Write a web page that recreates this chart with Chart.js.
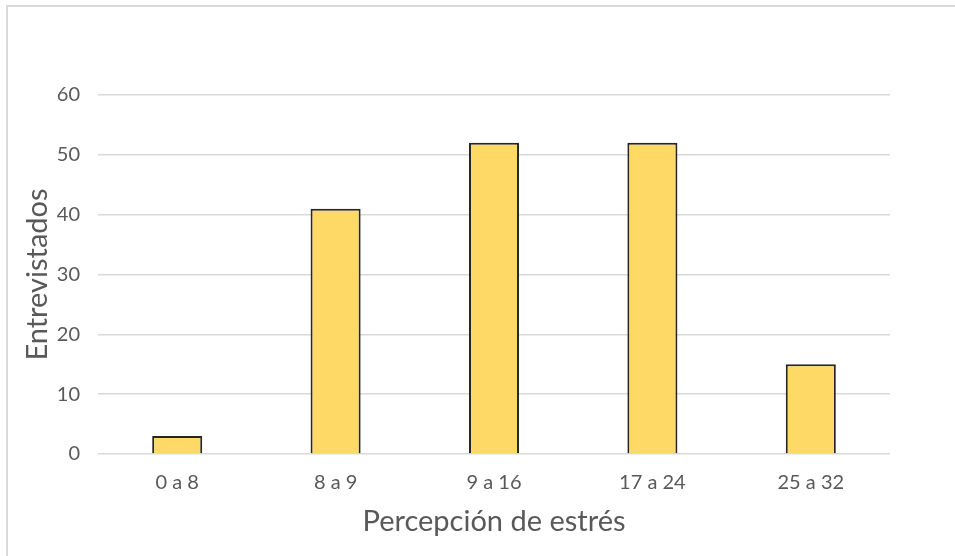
<!DOCTYPE html>
<html>
<head>
<meta charset="utf-8">
<script src="https://cdn.jsdelivr.net/npm/chart.js@4/dist/chart.umd.min.js"></script>
<style>
  html, body { margin: 0; padding: 0; background: #fff; }
  #wrap { position: relative; width: 955px; height: 556px; }
  #frame { position: absolute; left: 6px; top: 5px; right: 0; bottom: 0; border-top: 2px solid #d9d9d9; border-left: 2px solid #d9d9d9; }
  canvas { position: absolute; left: 0; top: 0; }
</style>
</head>
<body>
<div id="wrap">
  <div id="frame"></div>
  <canvas id="barChart" width="955" height="556"></canvas>
</div>
<script>
// datos
const categories = ['0 a 8', '8 a 9', '9 a 16', '17 a 24', '25 a 32'];
const entrevistados = [3, 41, 52, 52, 15];
const yTicks = [0, 10, 20, 30, 40, 50, 60];

const textColor = '#595959';
const gridColor = '#d9d9d9';
const fontFamily = 'Lato, "Open Sans", sans-serif';

const ctx = document.getElementById('barChart').getContext('2d');

new Chart(ctx, {
    type: 'bar',
    data: {
        labels: categories,
        datasets: [{
            label: 'Entrevistados',
            data: entrevistados,
            backgroundColor: '#ffd966',
            borderColor: '#262626',
            borderWidth: 2,
            categoryPercentage: 1,
            barPercentage: 0.316
        }]
    },
    options: {
        responsive: false,
        animation: false,
        layout: { padding: { left: 0, top: 95, right: 65, bottom: 0 } },
        plugins: {
            legend: { display: false },
            tooltip: { enabled: false }
        },
        scales: {
            x: {
                grid: { display: false },
                border: { display: false },
                ticks: { color: textColor, font: { family: fontFamily, size: 20 }, padding: 9 },
                title: {
                    display: true,
                    text: 'Percepción de estrés',
                    color: textColor,
                    font: { family: fontFamily, size: 29 },
                    padding: { top: 0, bottom: 17 }
                },
                afterFit: (scale) => { scale.height = 102; }
            },
            y: {
                min: yTicks[0],
                max: yTicks[yTicks.length - 1],
                afterBuildTicks: (scale) => { scale.ticks = yTicks.map(v => ({ value: v })); },
                grid: { color: gridColor, lineWidth: 1.5, drawTicks: false },
                border: { display: false },
                ticks: { color: textColor, font: { family: fontFamily, size: 20 }, padding: 18 },
                title: {
                    display: true,
                    text: 'Entrevistados',
                    color: textColor,
                    font: { family: fontFamily, size: 29 },
                    padding: { top: 20, bottom: 0 }
                },
                afterFit: (scale) => { scale.width = 98; }
            }
        }
    }
});
</script>
</body>
</html>
